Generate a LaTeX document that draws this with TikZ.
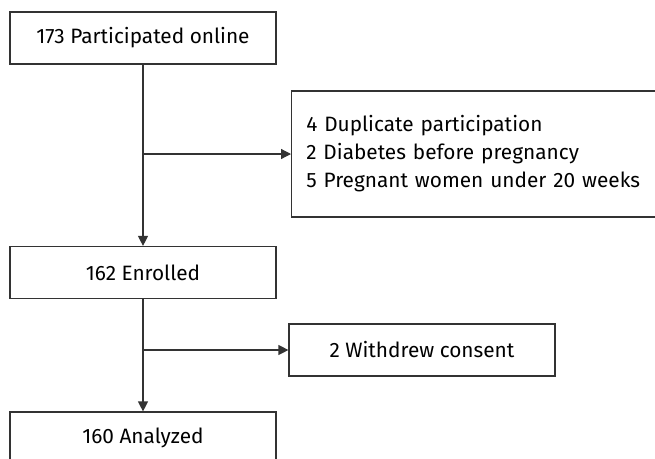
\documentclass[tikz,border=0pt]{standalone}
\usepackage{fontspec}
\setmainfont{Fira Sans}
\usetikzlibrary{arrows.meta}
\tikzset{
	box/.style={draw=black!80, line width=0.9pt, minimum width=199.5pt, minimum height=39pt, inner sep=0pt, font=\fontsize{15.6}{21}\selectfont},
	arr/.style={draw=black!80, line width=0.9pt, -{Triangle[length=7.5pt, width=7.5pt]}}
}
\begin{document}
\begin{tikzpicture}[x=0.75pt, y=-0.75pt]
	%%%%% START %%%%%
	\useasboundingbox (0, 0) rectangle (655, 458);
	
	\node[box] (online) at (143, 38) {173 Participated online};
	\node[box, minimum width=275pt, minimum height=94.5pt, align=left, anchor=west, text width=253pt] (excl) at (291, 154) {4 Duplicate participation\\2 Diabetes before pregnancy\\5 Pregnant women under 20 weeks};
	\node[box] (enrolled) at (143, 272.5) {162 Enrolled};
	\node[box] (withdrew) at (422, 350) {2 Withdrew consent};
	\node[box] (analyzed) at (143, 438) {160 Analyzed};
	
	\draw[arr] (online) -- (enrolled);
	\draw[arr] (online.south |- excl.west) -- (excl.west);
	\draw[arr] (enrolled) -- (analyzed);
	\draw[arr] (enrolled.south |- withdrew.west) -- (withdrew.west);
	
	%%%%% END %%%%%
\end{tikzpicture}
\end{document}
